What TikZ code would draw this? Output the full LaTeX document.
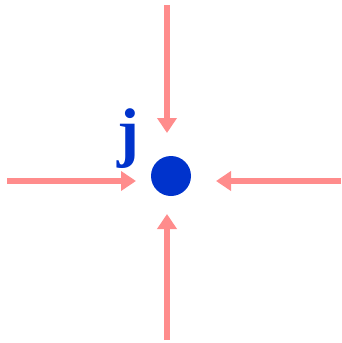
\documentclass[tikz,border=0pt]{standalone}
\usepackage{fontspec}
\setmainfont{Liberation Serif}
\usepackage{tikz}
\usetikzlibrary{arrows.meta,positioning}
\definecolor{arrowpink}{HTML}{FF8C8C}
\definecolor{dotblue}{HTML}{0033CC}

\begin{document}
\begin{tikzpicture}[
        x=1pt, y=-1pt,
        % style cho mui ten va nut
        inflow/.style={arrowpink, line width=6pt, -{Triangle[length=15pt, width=19pt]}},
        vertex/.style={circle, fill=dotblue, inner sep=0pt, minimum size=40pt},
        lbl/.style={text=dotblue, font=\bfseries\fontsize{66}{66}\selectfont, inner sep=0pt}
    ]
        \useasboundingbox (0,0) rectangle (342,343);

        % 1. Nut j
        \node[vertex] (j) at (171,176) {};
        \node[lbl] (jlabel) at (128,139) {j};

        % 2. Cac diem dau va diem cuoi cua mui ten
        \coordinate (top_s) at (167,5);
        \coordinate (top_e) at (167,133);
        \coordinate (left_s) at (7,181);
        \coordinate (left_e) at (136,181);
        \coordinate (right_s) at (341,181);
        \coordinate (right_e) at (216,181);
        \coordinate (bot_s) at (167,340);
        \coordinate (bot_e) at (167,214);

        % 3. Cac mui ten di vao
        \draw[inflow] (top_s) -- (top_e);
        \draw[inflow] (left_s) -- (left_e);
        \draw[inflow] (right_s) -- (right_e);
        \draw[inflow] (bot_s) -- (bot_e);

    \end{tikzpicture}
\end{document}
